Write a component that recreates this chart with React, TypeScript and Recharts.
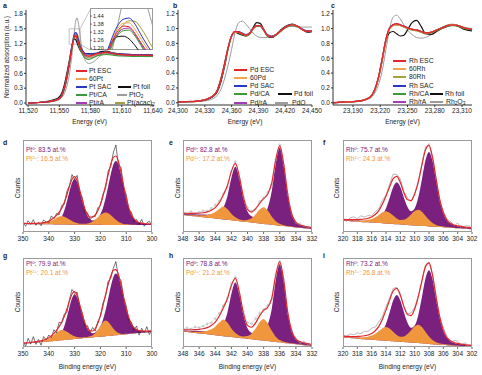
import React from 'react';
import { LineChart, Line, XAxis, YAxis, ComposedChart, Area, ReferenceArea, ReferenceLine } from 'recharts';

// ---------- XANES: Pt L3 edge (panel a) ----------
const energyPt = [11520, 11530, 11540, 11548, 11552, 11555, 11558, 11560, 11562, 11564, 11565, 11566, 11567, 11568, 11570, 11572, 11575, 11578, 11582, 11586, 11590, 11595, 11600, 11610, 11620, 11630, 11640];
const ptEsc = [0.0, 0.01, 0.03, 0.07, 0.14, 0.32, 0.62, 0.86, 1.12, 1.32, 1.365, 1.36, 1.31, 1.24, 1.12, 1.04, 0.97, 0.95, 0.97, 1.0, 1.01, 1.03, 1.01, 0.98, 0.97, 0.97, 0.96];
const pt60 = [0.0, 0.01, 0.03, 0.07, 0.14, 0.31, 0.6, 0.85, 1.12, 1.34, 1.385, 1.39, 1.34, 1.27, 1.14, 1.05, 0.97, 0.94, 0.96, 0.99, 1.01, 1.03, 1.01, 0.98, 0.97, 0.97, 0.96];
const ptSac = [0.0, 0.01, 0.03, 0.07, 0.14, 0.31, 0.6, 0.85, 1.13, 1.36, 1.415, 1.425, 1.38, 1.3, 1.16, 1.07, 1.0, 0.99, 1.0, 1.01, 1.02, 1.03, 1.01, 0.99, 0.98, 0.98, 0.97];
const ptCa = [0.0, 0.01, 0.03, 0.07, 0.14, 0.31, 0.6, 0.84, 1.1, 1.29, 1.33, 1.335, 1.29, 1.22, 1.08, 0.99, 0.91, 0.88, 0.91, 0.95, 0.97, 0.98, 0.97, 0.95, 0.94, 0.94, 0.94];
const ptRa = [0.0, 0.01, 0.03, 0.07, 0.14, 0.31, 0.61, 0.85, 1.11, 1.3, 1.345, 1.35, 1.3, 1.23, 1.1, 1.02, 0.95, 0.93, 0.95, 0.98, 1.0, 1.02, 1.0, 0.97, 0.96, 0.96, 0.95];
const ptFoil = [0.0, 0.01, 0.04, 0.09, 0.18, 0.38, 0.68, 0.9, 1.14, 1.285, 1.29, 1.27, 1.22, 1.16, 1.07, 1.02, 1.0, 1.0, 0.99, 1.0, 1.04, 1.05, 1.02, 0.99, 0.98, 0.98, 0.97];
const ptO2 = [0.0, 0.01, 0.02, 0.05, 0.1, 0.2, 0.4, 0.62, 0.95, 1.35, 1.55, 1.68, 1.72, 1.65, 1.36, 1.06, 0.86, 0.8, 0.82, 0.89, 0.96, 1.0, 0.99, 0.97, 0.96, 0.96, 0.95];
const ptAcac = [0.0, 0.01, 0.02, 0.06, 0.12, 0.27, 0.55, 0.8, 1.07, 1.3, 1.37, 1.405, 1.4, 1.35, 1.2, 1.08, 0.96, 0.91, 0.92, 0.96, 0.98, 1.0, 0.99, 0.97, 0.96, 0.96, 0.95];

// ---------- XANES: Pd K edge (panel b) ----------
const energyPd = [24300, 24310, 24320, 24330, 24336, 24340, 24344, 24348, 24352, 24356, 24360, 24364, 24368, 24372, 24376, 24380, 24384, 24388, 24392, 24396, 24400, 24405, 24410, 24416, 24422, 24428, 24434, 24440, 24445, 24450];
const pdEsc = [0.01, 0.015, 0.02, 0.04, 0.07, 0.1, 0.17, 0.32, 0.52, 0.74, 0.9, 0.96, 0.95, 0.93, 0.91, 0.93, 1.0, 1.04, 1.04, 0.98, 0.91, 0.89, 0.92, 0.98, 1.03, 1.05, 1.03, 0.98, 0.96, 0.97];
const pd60 = [0.01, 0.015, 0.02, 0.04, 0.07, 0.1, 0.17, 0.31, 0.51, 0.73, 0.89, 0.95, 0.95, 0.93, 0.91, 0.93, 0.99, 1.04, 1.04, 0.98, 0.91, 0.89, 0.92, 0.98, 1.03, 1.05, 1.03, 0.98, 0.96, 0.97];
const pdSac = [0.01, 0.015, 0.02, 0.04, 0.07, 0.1, 0.17, 0.31, 0.51, 0.73, 0.9, 0.96, 0.96, 0.94, 0.92, 0.94, 1.0, 1.04, 1.04, 0.98, 0.92, 0.9, 0.92, 0.98, 1.03, 1.05, 1.03, 0.99, 0.97, 0.97];
const pdCa = [0.01, 0.015, 0.02, 0.04, 0.07, 0.1, 0.17, 0.32, 0.52, 0.74, 0.9, 0.95, 0.94, 0.92, 0.9, 0.92, 0.99, 1.03, 1.03, 0.97, 0.9, 0.89, 0.91, 0.97, 1.02, 1.04, 1.02, 0.98, 0.96, 0.96];
const pdRa = [0.01, 0.015, 0.02, 0.04, 0.07, 0.1, 0.17, 0.32, 0.52, 0.74, 0.9, 0.96, 0.95, 0.93, 0.91, 0.93, 1.0, 1.04, 1.04, 0.98, 0.91, 0.89, 0.92, 0.98, 1.03, 1.05, 1.03, 0.98, 0.96, 0.97];
const pdFoil = [0.01, 0.015, 0.02, 0.035, 0.06, 0.09, 0.15, 0.28, 0.48, 0.72, 0.9, 0.95, 0.93, 0.91, 0.9, 0.93, 1.01, 1.08, 1.07, 0.99, 0.9, 0.88, 0.92, 0.99, 1.04, 1.06, 1.03, 0.98, 0.95, 0.96];
const pdO = [0.01, 0.012, 0.015, 0.025, 0.04, 0.06, 0.1, 0.18, 0.32, 0.5, 0.72, 0.95, 1.08, 1.1, 1.06, 1.0, 0.94, 0.9, 0.88, 0.88, 0.88, 0.89, 0.93, 0.98, 1.02, 1.03, 1.02, 1.02, 1.02, 1.02];

// ---------- XANES: Rh K edge (panel c) ----------
const energyRh = [23168, 23180, 23190, 23200, 23205, 23210, 23214, 23218, 23222, 23226, 23230, 23234, 23238, 23242, 23246, 23250, 23255, 23260, 23265, 23270, 23276, 23282, 23288, 23294, 23300, 23306, 23312, 23321];
const rhEsc = [0.0, 0.01, 0.015, 0.03, 0.05, 0.09, 0.18, 0.34, 0.58, 0.84, 1.0, 1.05, 1.065, 1.05, 1.03, 1.01, 0.99, 0.98, 0.96, 0.94, 0.95, 0.98, 1.01, 1.04, 1.05, 1.04, 1.01, 0.99];
const rh60 = [0.0, 0.01, 0.015, 0.03, 0.05, 0.09, 0.18, 0.33, 0.57, 0.83, 0.99, 1.04, 1.055, 1.04, 1.02, 1.0, 0.99, 0.98, 0.96, 0.94, 0.95, 0.98, 1.01, 1.04, 1.05, 1.04, 1.01, 0.99];
const rh80 = [0.0, 0.01, 0.015, 0.03, 0.05, 0.09, 0.17, 0.33, 0.57, 0.83, 0.99, 1.04, 1.05, 1.04, 1.02, 1.0, 0.98, 0.97, 0.95, 0.94, 0.95, 0.98, 1.01, 1.04, 1.05, 1.04, 1.01, 0.99];
const rhSac = [0.0, 0.01, 0.015, 0.03, 0.05, 0.09, 0.18, 0.34, 0.58, 0.84, 1.0, 1.05, 1.06, 1.05, 1.03, 1.01, 0.99, 0.98, 0.96, 0.94, 0.95, 0.98, 1.01, 1.04, 1.05, 1.04, 1.01, 0.99];
const rhCa = [0.0, 0.01, 0.015, 0.03, 0.05, 0.09, 0.18, 0.34, 0.58, 0.83, 0.99, 1.04, 1.05, 1.04, 1.02, 1.0, 0.98, 0.97, 0.95, 0.93, 0.94, 0.97, 1.0, 1.03, 1.04, 1.03, 1.0, 0.98];
const rhRa = [0.0, 0.01, 0.015, 0.03, 0.05, 0.09, 0.18, 0.34, 0.58, 0.84, 1.0, 1.05, 1.06, 1.05, 1.03, 1.01, 0.99, 0.98, 0.96, 0.94, 0.95, 0.98, 1.01, 1.04, 1.05, 1.04, 1.01, 0.99];
const rhFoil = [0.0, 0.01, 0.015, 0.03, 0.05, 0.09, 0.17, 0.33, 0.56, 0.82, 0.94, 0.96, 0.93, 0.9, 0.91, 0.98, 1.08, 1.11, 1.03, 0.93, 0.92, 0.96, 1.0, 1.03, 1.05, 1.03, 0.99, 0.97];
const rh2O3 = [0.0, 0.008, 0.012, 0.025, 0.04, 0.07, 0.13, 0.24, 0.42, 0.7, 0.98, 1.15, 1.18, 1.13, 1.05, 0.98, 0.92, 0.88, 0.87, 0.88, 0.92, 0.97, 1.02, 1.05, 1.06, 1.04, 1.02, 1.0];

// ---------- XPS (counts in % of box height) ----------
const bePt = [350, 349, 348, 347, 346, 345, 344, 343, 342, 341, 340, 339, 338, 337, 336, 335, 334, 333, 332, 331, 330, 329, 328, 327, 326, 325, 324, 323, 322, 321, 320, 319, 318, 317, 316, 315, 314, 313, 312, 311, 310, 309, 308, 307, 306, 305, 304, 303, 302, 301, 300];
const bePd = [348, 347.5, 347, 346.5, 346, 345.5, 345, 344.5, 344, 343.5, 343, 342.5, 342, 341.5, 341, 340.5, 340, 339.5, 339, 338.5, 338, 337.5, 337, 336.5, 336, 335.5, 335, 334.5, 334, 333.5, 333, 332.5, 332];
const beRh = [320, 319.5, 319, 318.5, 318, 317.5, 317, 316.5, 316, 315.5, 315, 314.5, 314, 313.5, 313, 312.5, 312, 311.5, 311, 310.5, 310, 309.5, 309, 308.5, 308, 307.5, 307, 306.5, 306, 305.5, 305, 304.5, 304, 303.5, 303, 302.5, 302];

// d: Pt
const bgD = [8.6, 8.6, 8.5, 8.5, 8.5, 8.4, 8.4, 8.4, 8.3, 8.3, 8.3, 8.3, 8.2, 8.2, 8.2, 8.1, 8.1, 8.1, 8.0, 8.0, 8.0, 8.0, 7.9, 7.9, 7.9, 7.9, 7.8, 7.8, 7.8, 7.8, 7.8, 7.7, 7.7, 7.7, 7.7, 7.7, 7.7, 7.6, 7.6, 7.6, 7.6, 7.6, 7.6, 7.6, 7.5, 7.5, 7.5, 7.5, 7.5, 7.5, 7.5];
const metalD = [0.5, 0.5, 0.5, 0.6, 0.6, 0.7, 0.8, 0.8, 0.9, 1.0, 1.1, 1.4, 1.8, 2.7, 4.7, 8.6, 15.3, 24.9, 36.0, 45.5, 49.6, 45.8, 36.4, 25.5, 16.1, 9.6, 6.1, 4.7, 5.2, 7.3, 11.5, 18.6, 28.9, 41.7, 54.9, 65.4, 69.4, 65.3, 54.8, 41.5, 28.7, 18.2, 11.0, 6.5, 4.0, 2.6, 2.0, 1.6, 1.3, 1.2, 1.0];
const oxideD = [0.2, 0.2, 0.2, 0.2, 0.3, 0.3, 0.4, 0.6, 0.9, 1.5, 2.4, 3.8, 5.5, 7.2, 8.6, 9.1, 8.6, 7.2, 5.6, 3.9, 2.5, 1.7, 1.1, 1.0, 1.0, 1.4, 2.3, 3.7, 5.7, 8.1, 10.7, 12.8, 13.6, 12.8, 10.7, 8.0, 5.5, 3.5, 2.1, 1.2, 0.7, 0.5, 0.3, 0.3, 0.2, 0.2, 0.2, 0.15, 0.15, 0.1, 0.1];
const residD = [2, -3, 3, -1, 4, -2, 1, -3, 3, 0, -2, 4, -1, 2, -3, 3, -2, 4, 1, 5, -3, 6, -2, 3, -4, 2, -3, 1, -2, 3, -1, 2, -3, 4, -2, 5, 12, -4, 6, -3, 4, -2, 3, -3, 2, -2, 4, -3, 1, 3, -2];

// g: Pt
const bgG = [3.6, 3.9, 4.1, 4.4, 4.7, 4.9, 5.2, 5.5, 5.7, 6.0, 6.3, 6.5, 6.8, 7.1, 7.4, 7.6, 7.9, 8.2, 8.4, 8.7, 9.0, 9.2, 9.5, 9.8, 10.0, 10.3, 10.6, 10.8, 11.1, 11.4, 11.6, 11.9, 12.2, 12.4, 12.7, 13.0, 13.2, 13.5, 13.8, 14.0, 14.3, 14.6, 14.8, 15.1, 15.4, 15.6, 15.9, 16.2, 16.4, 16.7, 17.0];
const metalG = [0.5, 0.5, 0.5, 0.6, 0.6, 0.7, 0.8, 0.8, 0.9, 1.0, 1.2, 1.4, 1.8, 2.7, 4.8, 8.8, 15.5, 25.2, 36.3, 46.1, 50.2, 46.4, 36.7, 25.8, 16.2, 9.7, 6.2, 4.7, 5.2, 7.3, 11.6, 18.7, 29.0, 41.7, 54.9, 65.5, 69.4, 65.4, 54.8, 41.5, 28.6, 18.2, 11.0, 6.5, 4.0, 2.6, 2.0, 1.6, 1.3, 1.2, 1.0];
const oxideG = [0.2, 0.2, 0.2, 0.25, 0.3, 0.35, 0.5, 0.7, 1.1, 1.9, 3.0, 4.7, 6.8, 9.0, 10.7, 11.4, 10.7, 9.0, 6.8, 4.8, 3.1, 2.0, 1.3, 0.9, 0.85, 0.95, 1.35, 2.5, 4.5, 7.9, 12.0, 15.9, 17.6, 15.9, 12.0, 7.8, 4.4, 2.3, 1.1, 0.65, 0.45, 0.35, 0.26, 0.22, 0.19, 0.17, 0.15, 0.14, 0.12, 0.11, 0.1];
const residG = [3, -4, 5, -2, 6, -3, 2, -5, 4, -1, 3, -2, 4, -3, 5, -1, 3, -4, 2, 5, -2, 4, -3, 2, -4, 3, -2, 4, -3, 2, -1, 3, -2, 4, -3, 2, 9, -3, 5, -2, 3, -4, 2, -3, 4, -5, 3, -2, 5, -4, 2];

// e: Pd
const bgE = [18.5, 18.0, 17.5, 17.1, 16.6, 16.1, 15.6, 15.1, 14.6, 14.1, 13.7, 13.2, 12.7, 12.2, 11.7, 11.2, 10.8, 10.3, 9.8, 9.3, 8.8, 8.3, 7.8, 7.4, 6.9, 6.4, 5.9, 5.4, 4.9, 4.5, 4.0, 3.5, 3.0];
const metalE = [1.5, 1.7, 1.9, 2.2, 2.4, 2.8, 3.2, 3.9, 4.7, 6.8, 12.6, 25.3, 46.0, 58.7, 46.1, 24.8, 11.5, 6.8, 6.0, 6.7, 9.2, 17.7, 36.1, 66.6, 85.0, 66.0, 33.7, 13.4, 5.5, 3.0, 2.3, 1.8, 1.4];
const oxideE = [0.5, 0.6, 0.8, 1.0, 1.4, 2.0, 3.0, 4.6, 7.2, 11.0, 14.0, 11.7, 7.2, 3.7, 1.9, 1.6, 2.3, 4.6, 9.3, 15.1, 18.2, 15.0, 9.1, 4.4, 2.0, 1.0, 0.6, 0.45, 0.35, 0.3, 0.25, 0.22, 0.2];
const residE = [1, -1, 2, 0, 1, 2, 1, 2, 3, 2, 1, -1, 0, 2, -1, 1, 2, 1, 0, 2, 1, 2, -1, 0, 1, -1, 1, 0, -1, 1, 0, -1, 1];

// h: Pd
const bgH = [17.3, 16.8, 16.3, 15.8, 15.3, 14.8, 14.3, 13.8, 13.2, 12.7, 12.2, 11.7, 11.2, 10.7, 10.2, 9.7, 9.2, 8.7, 8.2, 7.7, 7.2, 6.7, 6.2, 5.7, 5.2, 4.6, 4.1, 3.6, 3.1, 2.6, 2.1, 1.6, 1.1];
const metalH = [1.6, 1.8, 2.0, 2.4, 2.6, 3.0, 3.5, 4.2, 5.1, 7.4, 13.2, 26.5, 48.3, 61.7, 48.4, 26.0, 12.0, 7.3, 6.3, 7.1, 9.6, 17.8, 36.1, 68.9, 88.0, 68.3, 33.7, 13.4, 5.6, 3.1, 2.4, 1.9, 1.4];
const oxideH = [0.7, 0.8, 1.1, 1.3, 1.9, 2.7, 4.0, 6.2, 9.6, 14.7, 18.8, 15.7, 9.6, 5.0, 2.5, 2.1, 3.1, 6.2, 12.5, 20.2, 24.4, 20.1, 12.2, 5.9, 2.7, 1.3, 0.8, 0.6, 0.5, 0.4, 0.3, 0.3, 0.3];
const residH = [1, 2, 1, 3, 2, 3, 4, 3, 4, 3, 2, 1, 2, 1, -1, 2, 3, 4, 5, 3, 1, 2, -1, 1, 0, 2, -1, 1, 0, -2, 1, -1, 0];

// f: Rh
const bgF = [12.3, 12.0, 11.8, 11.5, 11.3, 11.0, 10.7, 10.5, 10.2, 10.0, 9.7, 9.5, 9.2, 8.9, 8.7, 8.4, 8.2, 7.9, 7.7, 7.4, 7.1, 6.9, 6.6, 6.4, 6.1, 5.8, 5.6, 5.3, 5.1, 4.8, 4.6, 4.3, 4.0, 3.8, 3.5, 3.3, 3.0];
const metalF = [0.8, 0.9, 0.95, 1.05, 1.15, 1.3, 1.5, 1.75, 2.2, 2.95, 4.8, 8.9, 16.6, 28.0, 40.0, 45.7, 40.6, 29.4, 19.6, 15.2, 18.5, 30.5, 50.3, 71.3, 80.9, 71.0, 49.5, 28.9, 15.0, 7.65, 4.4, 2.95, 2.3, 2.0, 1.65, 1.45, 1.2];
const oxideF = [0.55, 0.6, 0.7, 0.8, 1.0, 1.35, 1.9, 2.7, 4.0, 6.1, 8.8, 12.0, 13.4, 12.1, 9.2, 6.4, 4.9, 5.3, 7.75, 11.6, 15.6, 17.3, 15.5, 11.3, 7.1, 4.0, 2.1, 1.2, 0.75, 0.6, 0.5, 0.4, 0.35, 0.3, 0.25, 0.2, 0.2];
const residF = [1, -2, 2, 3, 1, 4, 2, 3, 1, 3, 2, 4, 1, 3, 5, 2, 4, 1, 2, -1, 1, -2, 2, 3, 2, -1, 1, -2, 2, 1, 2, -1, 3, -2, 1, 2, -1];

// i: Rh
const bgI = [10.6, 10.3, 10.0, 9.7, 9.4, 9.1, 8.8, 8.5, 8.2, 8.0, 7.7, 7.4, 7.1, 6.8, 6.5, 6.2, 5.9, 5.6, 5.3, 5.0, 4.7, 4.4, 4.1, 3.8, 3.5, 3.2, 2.9, 2.6, 2.4, 2.1, 1.8, 1.5, 1.2, 0.9, 0.6, 0.3, 0.0];
const metalI = [0.9, 1.0, 1.0, 1.1, 1.3, 1.4, 1.65, 1.9, 2.4, 3.3, 5.4, 10.1, 18.9, 32.0, 45.8, 52.3, 46.4, 33.5, 22.0, 16.5, 19.4, 31.4, 51.5, 72.9, 82.6, 72.5, 50.5, 29.5, 15.4, 7.9, 4.5, 3.05, 2.4, 2.1, 1.7, 1.5, 1.25];
const oxideI = [0.6, 0.7, 0.8, 0.9, 1.15, 1.55, 2.2, 3.1, 4.6, 7.0, 10.1, 13.8, 15.4, 13.9, 10.6, 7.4, 5.7, 6.3, 9.2, 13.8, 18.6, 20.6, 18.4, 13.4, 8.4, 4.8, 2.5, 1.4, 0.9, 0.7, 0.6, 0.5, 0.4, 0.35, 0.3, 0.25, 0.25];
const residI = [2, 0, 3, 2, 4, 3, 5, 4, 6, 4, 5, 3, 4, 2, 3, 1, 2, 0, 1, 3, 2, 1, -1, 2, 1, 0, -2, 1, 3, 1, -1, 2, 3, -1, 2, 0, 1];

const ticksPtE = [11520, 11550, 11580, 11610, 11640];
const ticksPdE = [24300, 24330, 24360, 24390, 24420, 24450];
const ticksRhE = [23190, 23220, 23250, 23280, 23310];
const ticksPtB = [350, 340, 330, 320, 310, 300];
const ticksPdB = [348, 346, 344, 342, 340, 338, 336, 334, 332];
const ticksRhB = [320, 318, 316, 314, 312, 310, 308, 306, 304, 302];
const insetTicks = [1.2, 1.26, 1.32, 1.38, 1.44];

const FONT = '"Liberation Sans", Arial, Helvetica, sans-serif';
const RED = '#e5262b';
const ORANGE = '#f6a24f';
const BLUE = '#2c36c4';
const GREEN = '#3b9a3b';
const VIOLET = '#a53bb8';
const BLACK = '#111111';
const GREY = '#9c9c9c';
const OLIVE = '#a5a03c';
const PURPLE_FILL = '#7a2180';
const ORANGE_FILL = '#f0973d';

type Ser = { key: string; color: string; values: number[]; w: number };

const ptSeries: Ser[] = [
  { key: 'o2', color: GREY, values: ptO2, w: 1 },
  { key: 'acac', color: OLIVE, values: ptAcac, w: 1.1 },
  { key: 'foil', color: BLACK, values: ptFoil, w: 1.2 },
  { key: 'ra', color: VIOLET, values: ptRa, w: 1.1 },
  { key: 'ca', color: GREEN, values: ptCa, w: 1.1 },
  { key: 'p60', color: ORANGE, values: pt60, w: 1.1 },
  { key: 'sac', color: BLUE, values: ptSac, w: 1.2 },
  { key: 'esc', color: RED, values: ptEsc, w: 1.3 },
];
const pdSeries: Ser[] = [
  { key: 'ox', color: GREY, values: pdO, w: 1 },
  { key: 'foil', color: BLACK, values: pdFoil, w: 1.2 },
  { key: 'ra', color: VIOLET, values: pdRa, w: 1.1 },
  { key: 'ca', color: GREEN, values: pdCa, w: 1.1 },
  { key: 'sac', color: BLUE, values: pdSac, w: 1.1 },
  { key: 'p60', color: ORANGE, values: pd60, w: 1.1 },
  { key: 'esc', color: RED, values: pdEsc, w: 1.4 },
];
const rhSeries: Ser[] = [
  { key: 'ox', color: GREY, values: rh2O3, w: 1 },
  { key: 'foil', color: BLACK, values: rhFoil, w: 1.2 },
  { key: 'ra', color: VIOLET, values: rhRa, w: 1.1 },
  { key: 'ca', color: GREEN, values: rhCa, w: 1.1 },
  { key: 'sac', color: BLUE, values: rhSac, w: 1.1 },
  { key: 'p80', color: OLIVE, values: rh80, w: 1.1 },
  { key: 'p60', color: ORANGE, values: rh60, w: 1.1 },
  { key: 'esc', color: RED, values: rhEsc, w: 1.4 },
];

const buildRows = (energies: number[], series: Ser[]) =>
  energies.map((e, i) => {
    const r: Record<string, number> = { e };
    series.forEach((s) => { r[s.key] = s.values[i]; });
    return r;
  });

const rowsPt = buildRows(energyPt, ptSeries);
const rowsPd = buildRows(energyPd, pdSeries);
const rowsRh = buildRows(energyRh, rhSeries);

const sep = (v: number) => String(v).replace(/\B(?=(\d{3})+(?!\d))/g, ',');
const tickStyle = { fontSize: 6.5, fill: '#222', fontFamily: FONT };

const XasChart = ({ left, top, width, rows, series, xDomain, xTicks, yDomain, yTicks, children }: any) => (
  <div style={{ position: 'absolute', left, top }}>
    <LineChart width={width} height={113} data={rows} margin={{ top: 4, right: 10, bottom: 0, left: 0 }}>
      <XAxis dataKey="e" type="number" domain={xDomain} ticks={xTicks} allowDataOverflow interval={0}
        tickFormatter={sep} tick={tickStyle} tickSize={2} tickMargin={1} height={14} stroke="#333" />
      <YAxis type="number" domain={yDomain} ticks={yTicks} allowDataOverflow interval={0} width={20}
        tickFormatter={(v: number) => v.toFixed(1)} tick={tickStyle} tickSize={2} tickMargin={1} stroke="#333" />
      {series.map((s: Ser) => (
        <Line key={s.key} dataKey={s.key} stroke={s.color} strokeWidth={s.w} dot={false} type="monotone" isAnimationActive={false} />
      ))}
      {children}
    </LineChart>
  </div>
);

const XpsChart = ({ left, top, plotH, be, bg, metal, oxide, resid, domain, ticks, rawKind }: any) => {
  const rows = be.map((e: number, i: number) => {
    const fit = bg[i] + metal[i] + oxide[i];
    return { e, metal: [bg[i], bg[i] + metal[i]], oxide: [bg[i], bg[i] + oxide[i]], fit, raw: fit + resid[i] };
  });
  const rawColor = rawKind === 'black' ? '#1a1a1a' : '#8a8a8a';
  return (
    <>
      <div style={{ position: 'absolute', left, top }}>
        <ComposedChart width={145} height={plotH + 14} data={rows} margin={{ top: 0, right: 8, bottom: 0, left: 8 }}>
          <XAxis dataKey="e" type="number" domain={domain} reversed ticks={ticks} interval={0} allowDataOverflow
            axisLine={false} tickSize={2} tickMargin={2} tick={tickStyle} stroke="#666" height={14} />
          <YAxis hide type="number" domain={[0, 100]} allowDataOverflow />
          <Area dataKey="metal" type="monotone" fill={PURPLE_FILL} fillOpacity={1} stroke="none" isAnimationActive={false} />
          <Area dataKey="oxide" type="monotone" fill={ORANGE_FILL} fillOpacity={1} stroke="none" isAnimationActive={false} />
          {rawKind === 'dots' ? (
            <Line dataKey="raw" stroke="#b0b0b0" strokeWidth={0.4} type="linear" isAnimationActive={false}
              dot={{ r: 0.9, stroke: '#8c8c8c', strokeWidth: 0.4, fill: 'none' }} />
          ) : (
            <Line dataKey="raw" stroke={rawColor} strokeWidth={0.6} type="linear" dot={false} isAnimationActive={false} />
          )}
          <Line dataKey="fit" stroke={RED} strokeWidth={1.2} type="monotone" dot={false} isAnimationActive={false} />
        </ComposedChart>
      </div>
      <div style={{ position: 'absolute', left: left + 8, top, width: 129, height: plotH, border: '0.6px solid #9a9a9a', boxSizing: 'border-box' }} />
    </>
  );
};

const T = ({ x, y, children, size = 6.5, color = '#222', bold = false, rot = false, start = false }: any) => (
  <div style={{
    position: 'absolute', left: x, top: y, fontSize: size, color, fontWeight: bold ? 700 : 400, lineHeight: 1,
    whiteSpace: 'nowrap', transform: `translate(${start ? '0' : '-50%'}, -50%)${rot ? ' rotate(-90deg)' : ''}`,
  }}>{children}</div>
);

const Sub = ({ children }: any) => <span style={{ fontSize: '70%', verticalAlign: '-0.3em', lineHeight: 0 }}>{children}</span>;
const Sup = ({ children }: any) => <span style={{ fontSize: '65%', verticalAlign: '0.5em', lineHeight: 0 }}>{children}</span>;

const Leg = ({ sx, sw, tx, y, color, children }: any) => (
  <>
    <div style={{ position: 'absolute', left: sx, top: y - 0.8, width: sw, height: 1.6, background: color }} />
    <T x={tx} y={y} start size={6.8}>{children}</T>
  </>
);

const Note = ({ x, y, el, v0, v2 }: any) => (
  <>
    <T x={x} y={y} start color={PURPLE_FILL}>{el}<Sup>0</Sup>: {v0} at.%</T>
    <T x={x} y={y + 9.5} start color={ORANGE_FILL}>{el}<Sup>2+</Sup>: {v2} at.%</T>
  </>
);

export default function App() {
  return (
    <div style={{ position: 'absolute', left: 0, top: 0, width: 482, height: 375, background: '#fff', fontFamily: FONT, overflow: 'hidden' }}>
      {/* ---- top row: XANES ---- */}
      <XasChart left={6} top={6} width={157} rows={rowsPt} series={ptSeries} xDomain={[11518, 11640]} xTicks={ticksPtE}
        yDomain={[-0.04, 1.88]} yTicks={[0, 0.3, 0.6, 0.9, 1.2, 1.5, 1.8]}>
        <ReferenceArea x1={11559.5} x2={11570} y1={1.187} y2={1.5} stroke="#9a9a9a" strokeWidth={0.6} fill="none" fillOpacity={0} ifOverflow="visible" />
        <ReferenceLine segment={[{ x: 11570, y: 1.5 }, { x: 11579.5, y: 1.88 }]} stroke="#9a9a9a" strokeWidth={0.6} ifOverflow="visible" />
        <ReferenceLine segment={[{ x: 11570, y: 1.187 }, { x: 11579.5, y: 1.072 }]} stroke="#9a9a9a" strokeWidth={0.6} ifOverflow="visible" />
      </XasChart>
      <div style={{ position: 'absolute', left: 90, top: 8, width: 63, height: 42, background: '#fff', border: '0.6px solid #9a9a9a', boxSizing: 'border-box' }} />
      <div style={{ position: 'absolute', left: 90, top: 8 }}>
        <LineChart width={63} height={42} data={rowsPt} margin={{ top: 0, right: 0, bottom: 0, left: 0 }}>
          <XAxis hide dataKey="e" type="number" domain={[11559.5, 11570]} allowDataOverflow />
          <YAxis mirror type="number" domain={[1.187, 1.5]} ticks={insetTicks} allowDataOverflow interval={0} width={1}
            tickFormatter={(v: number) => v.toFixed(2)} tick={{ fontSize: 5.5, fill: '#222', fontFamily: FONT }} tickSize={2} tickMargin={1}
            axisLine={false} stroke="#666" />
          {ptSeries.map((s) => (
            <Line key={s.key} dataKey={s.key} stroke={s.color} strokeWidth={1} dot={false} type="monotone" isAnimationActive={false} />
          ))}
        </LineChart>
      </div>

      <XasChart left={158} top={6} width={164} rows={rowsPd} series={pdSeries} xDomain={[24300, 24450]} xTicks={ticksPdE}
        yDomain={[-0.03, 1.25]} yTicks={[0, 0.2, 0.4, 0.6, 0.8, 1.0, 1.2]} />
      <XasChart left={313} top={6} width={169} rows={rowsRh} series={rhSeries} xDomain={[23168, 23321]} xTicks={ticksRhE}
        yDomain={[-0.03, 1.25]} yTicks={[0, 0.2, 0.4, 0.6, 0.8, 1.0, 1.2]} />

      {/* legends */}
      <Leg sx={76} sw={11} tx={89} y={71} color={RED}>Pt ESC</Leg>
      <Leg sx={76} sw={11} tx={89} y={79} color={ORANGE}>60Pt</Leg>
      <Leg sx={76} sw={11} tx={89} y={87} color={BLUE}>Pt SAC</Leg>
      <Leg sx={76} sw={11} tx={89} y={95} color={GREEN}>Pt/CA</Leg>
      <Leg sx={76} sw={11} tx={89} y={103} color={VIOLET}>Pt/rA</Leg>
      <Leg sx={118} sw={13} tx={133} y={87} color={BLACK}>Pt foil</Leg>
      <Leg sx={117} sw={10} tx={129} y={95} color={GREY}>PtO<Sub>2</Sub></Leg>
      <Leg sx={115} sw={10} tx={127} y={103} color={OLIVE}>Pt(acac)<Sub>2</Sub></Leg>

      <Leg sx={234} sw={13} tx={250} y={70} color={RED}>Pd ESC</Leg>
      <Leg sx={234} sw={13} tx={250} y={78} color={ORANGE}>60Pd</Leg>
      <Leg sx={234} sw={13} tx={250} y={86} color={BLUE}>Pd SAC</Leg>
      <Leg sx={234} sw={13} tx={250} y={94} color={GREEN}>Pd/CA</Leg>
      <Leg sx={234} sw={13} tx={250} y={103} color={VIOLET}>Pd/rA</Leg>
      <Leg sx={278} sw={14} tx={294} y={94} color={BLACK}>Pd foil</Leg>
      <Leg sx={275} sw={13} tx={292} y={103} color={GREY}>PdO</Leg>

      <Leg sx={393} sw={13} tx={409} y={61} color={RED}>Rh ESC</Leg>
      <Leg sx={393} sw={13} tx={409} y={69} color={ORANGE}>60Rh</Leg>
      <Leg sx={393} sw={13} tx={409} y={77} color={OLIVE}>80Rh</Leg>
      <Leg sx={393} sw={13} tx={409} y={86} color={BLUE}>Rh SAC</Leg>
      <Leg sx={393} sw={13} tx={409} y={94} color={GREEN}>Rh/CA</Leg>
      <Leg sx={393} sw={13} tx={409} y={102} color={VIOLET}>Rh/rA</Leg>
      <Leg sx={430} sw={13} tx={445} y={94} color={BLACK}>Rh foil</Leg>
      <Leg sx={430} sw={13} tx={446} y={102} color={GREY}>Rh<Sub>2</Sub>O<Sub>3</Sub></Leg>

      <T x={7} y={57} rot size={6.5}>Normalized absorption (a.u.)</T>
      <T x={89.5} y={122}>Energy (eV)</T>
      <T x={245} y={122}>Energy (eV)</T>
      <T x={402.5} y={122}>Energy (eV)</T>

      {/* ---- XPS rows ---- */}
      <XpsChart left={15} top={140} plotH={92} be={bePt} bg={bgD} metal={metalD} oxide={oxideD} resid={residD} domain={[300, 350]} ticks={ticksPtB} rawKind="black" />
      <XpsChart left={175} top={140} plotH={92} be={bePd} bg={bgE} metal={metalE} oxide={oxideE} resid={residE} domain={[332, 348]} ticks={ticksPdB} rawKind="dots" />
      <XpsChart left={335} top={140} plotH={92} be={beRh} bg={bgF} metal={metalF} oxide={oxideF} resid={residF} domain={[302, 320]} ticks={ticksRhB} rawKind="grey" />
      <XpsChart left={15} top={258} plotH={89} be={bePt} bg={bgG} metal={metalG} oxide={oxideG} resid={residG} domain={[300, 350]} ticks={ticksPtB} rawKind="black" />
      <XpsChart left={175} top={258} plotH={89} be={bePd} bg={bgH} metal={metalH} oxide={oxideH} resid={residH} domain={[332, 348]} ticks={ticksPdB} rawKind="dots" />
      <XpsChart left={335} top={258} plotH={89} be={beRh} bg={bgI} metal={metalI} oxide={oxideI} resid={residI} domain={[302, 320]} ticks={ticksRhB} rawKind="grey" />

      <Note x={26} y={149.5} el="Pt" v0="83.5" v2="16.5" />
      <Note x={186} y={149.5} el="Pd" v0="82.8" v2="17.2" />
      <Note x={346} y={149.5} el="Rh" v0="75.7" v2="24.3" />
      <Note x={26} y={263.5} el="Pt" v0="79.9" v2="20.1" />
      <Note x={186} y={263.5} el="Pd" v0="78.8" v2="21.2" />
      <Note x={346} y={263.5} el="Rh" v0="73.2" v2="26.8" />

      {[18, 178, 337].map((x) => <T key={'c2' + x} x={x} y={188} rot>Counts</T>)}
      {[18, 178, 337].map((x) => <T key={'c3' + x} x={x} y={302} rot>Counts</T>)}
      <T x={87.5} y={367}>Binding energy (eV)</T>
      <T x={247.5} y={367}>Binding energy (eV)</T>
      <T x={407.5} y={367}>Binding energy (eV)</T>

      {/* panel letters */}
      <T x={3} y={5} start bold size={7}>a</T>
      <T x={173} y={5} start bold size={7}>b</T>
      <T x={331} y={5} start bold size={7}>c</T>
      <T x={3} y={142} start bold size={7}>d</T>
      <T x={169} y={142} start bold size={7}>e</T>
      <T x={323} y={142} start bold size={7}>f</T>
      <T x={3} y={255} start bold size={7}>g</T>
      <T x={169} y={255} start bold size={7}>h</T>
      <T x={323} y={255} start bold size={7}>i</T>
    </div>
  );
}
